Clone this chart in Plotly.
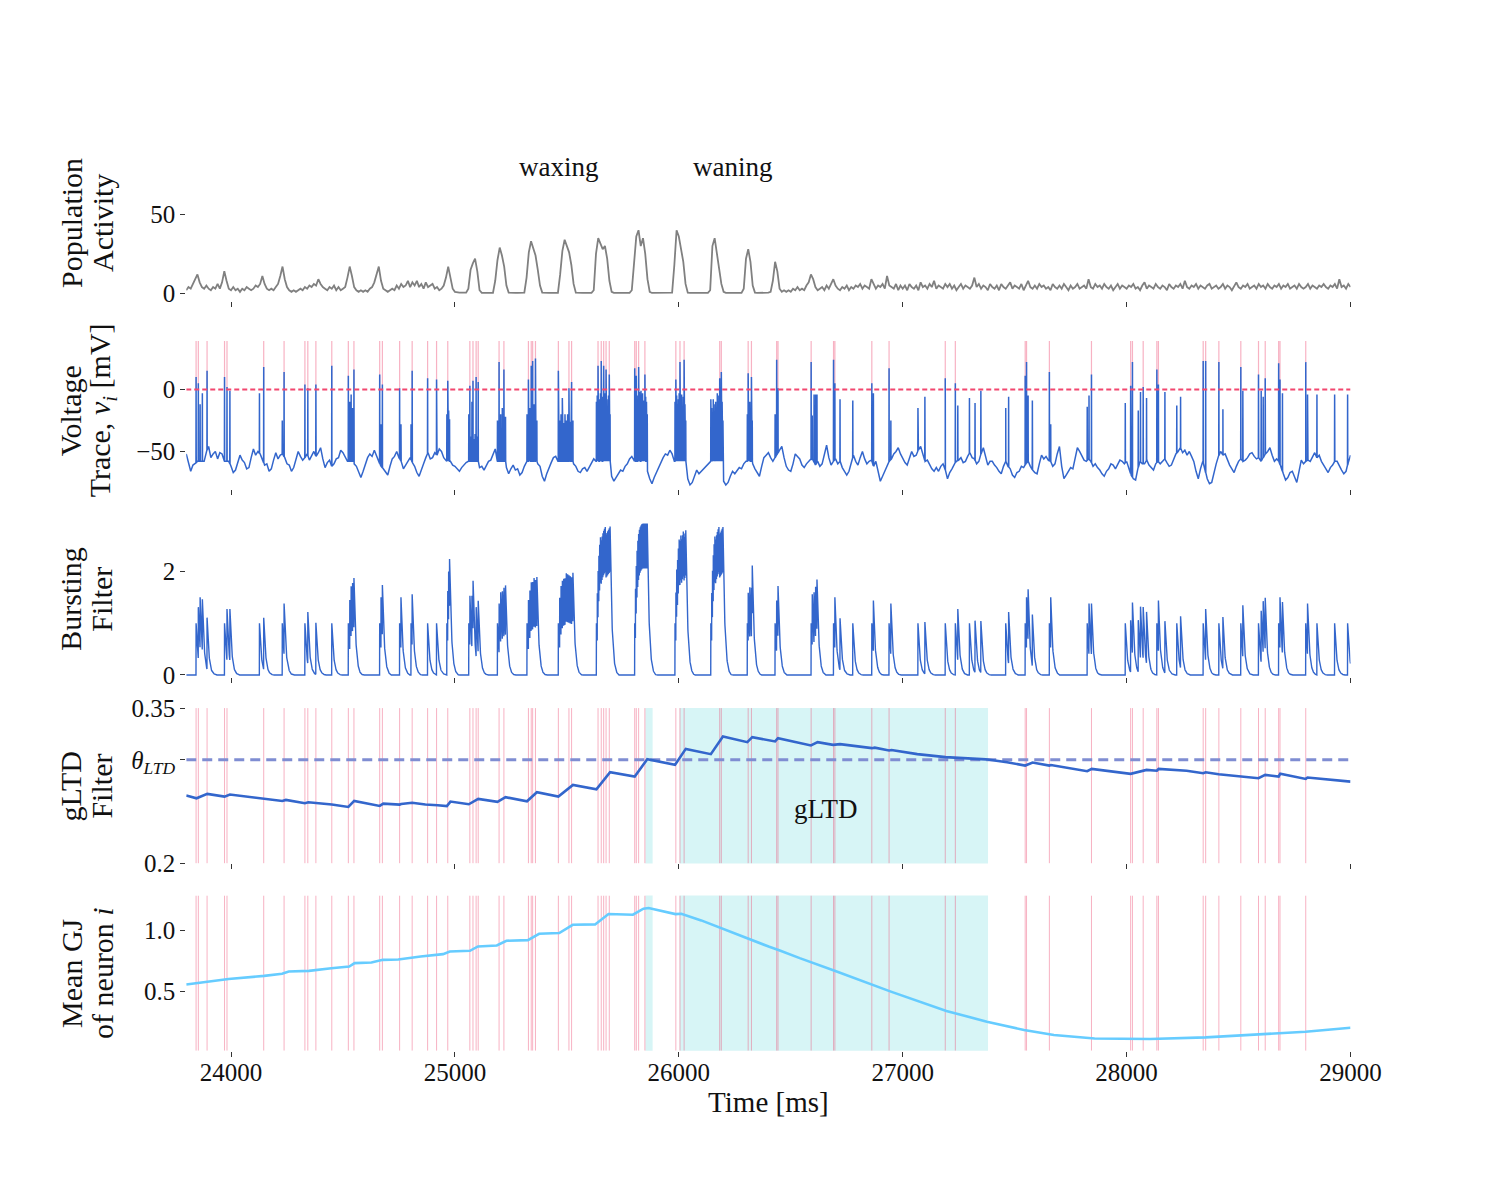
import numpy as np
import plotly.graph_objects as go
from plotly.subplots import make_subplots

# time window on every panel [ms]
t_first, t_last = 23800, 29000

# population activity, one value every 10 ms from t_first
pop_dt = 10
pop_activity = [
    2, 4, 3, 6, 8, 12, 7, 4, 3, 5,
    3, 2, 4, 3, 6, 3, 7, 14, 8, 3,
    2, 4, 2, 3, 1, 3, 2, 4, 3, 2,
    3, 5, 4, 6, 11, 6, 3, 2, 3, 2,
    4, 6, 11, 17, 9, 4, 2, 1, 2, 1,
    2, 3, 2, 4, 3, 5, 4, 6, 5, 9,
    6, 4, 3, 2, 4, 3, 5, 2, 4, 2,
    3, 4, 10, 17, 11, 4, 2, 1, 2, 1,
    2, 1, 3, 4, 7, 13, 17, 8, 3, 2,
    1, 2, 3, 2, 5, 3, 6, 4, 5, 8,
    4, 7, 5, 8, 4, 6, 3, 7, 4, 5,
    6, 3, 4, 2, 3, 5, 10, 17, 9, 3,
    1, 0.5, 0.5, 0.5, 0.5, 0.5, 3, 15, 19, 22,
    14, 2, 0.3, 0.3, 0.3, 0.3, 0.3, 0.3, 8, 21,
    29, 24, 17, 5, 0.5, 0.3, 0.3, 0.3, 0.3, 0.3,
    0.3, 0.5, 10, 26, 33, 28, 24, 15, 5, 0.5,
    0.3, 0.3, 0.3, 0.3, 0.3, 0.3, 0.3, 12, 27, 34,
    30, 26, 18, 6, 0.5, 0.3, 0.3, 0.3, 0.3, 0.3,
    0.3, 0.3, 2, 25, 35, 31, 28, 30, 22, 8,
    1, 0.3, 0.3, 0.3, 0.3, 0.3, 0.3, 0.3, 0.3, 2,
    20, 36, 40, 30, 35, 25, 9, 1, 0.3, 0.3,
    0.3, 0.3, 0.3, 0.3, 0.3, 0.3, 0.3, 0.5, 18, 40,
    36, 28, 20, 6, 0.5, 0.3, 0.3, 0.3, 0.3, 0.3,
    0.3, 0.3, 0.3, 0.3, 2, 30, 35, 25, 18, 6,
    1, 0.3, 0.3, 0.3, 0.3, 0.3, 0.3, 0.3, 0.3, 3,
    22, 28, 20, 5, 0.5, 0.3, 0.3, 0.3, 0.3, 0.5,
    0.5, 1, 8, 20, 14, 3, 1, 2, 1, 2,
    1, 3, 2, 4, 2, 3, 2, 5, 7, 12,
    9, 4, 2, 3, 4, 2, 5, 3, 6, 9,
    5, 3, 2, 4, 3, 5, 2, 4, 3, 5,
    4, 6, 3, 5, 4, 3, 9, 6, 3, 5,
    4, 6, 3, 11, 5, 4, 3, 6, 2, 5,
    3, 5, 2, 6, 4, 3, 5, 2, 7, 4,
    5, 3, 6, 4, 8, 3, 5, 4, 3, 6,
    4, 6, 3, 5, 2, 4, 6, 3, 5, 4,
    3, 5, 10, 4, 6, 3, 5, 4, 2, 6,
    4, 3, 5, 2, 6, 4, 3, 5, 7, 3,
    5, 4, 3, 6, 2, 5, 8, 4, 3, 5,
    3, 6, 4, 5, 3, 4, 2, 6, 4, 3,
    5, 3, 6, 4, 2, 5, 3, 4, 6, 3,
    4, 5, 3, 9, 4, 3, 6, 4, 5, 3,
    6, 4, 3, 5, 2, 4, 6, 3, 5, 4,
    3, 5, 4, 6, 3, 4, 2, 5, 7, 3,
    5, 4, 3, 6, 4, 3, 5, 4, 2, 6,
    4, 3, 5, 4, 6, 3, 8, 4, 3, 5,
    4, 6, 3, 5, 4, 3, 5, 6, 3, 4,
    5, 3, 4, 6, 3, 5, 4, 2, 5, 7,
    4, 3, 5, 4, 6, 3, 4, 5, 3, 6,
    4, 5, 3, 6, 4, 3, 5, 4, 6, 3,
    5, 4, 6, 3, 4, 5, 3, 6, 4, 3,
    4, 6, 3, 5, 4, 3, 5, 4, 6, 4,
    3, 5, 4, 6, 3, 9, 4, 5, 3, 6,
    4,
]

# voltage of neuron i between spikes, one value every 10 ms [mV]
v_dt = 10
v_rest = [
    -52, -58, -66, -61, -60, -58, -58, -58, -58, -50, -46, -55, -52, -50, -56, -51, -52, -58, -58, -58,
    -62, -67, -65, -58, -53, -57, -59, -64, -63, -55, -48, -53, -50, -52, -56, -61, -60, -66, -64, -57,
    -51, -56, -53, -52, -55, -60, -61, -66, -63, -56, -50, -54, -57, -55, -52, -57, -53, -50, -54, -51,
    -47, -56, -63, -59, -57, -62, -60, -56, -55, -49, -51, -55, -58, -58, -58, -60, -62, -67, -71, -66,
    -61, -55, -52, -54, -49, -54, -58, -62, -64, -67, -69, -62, -56, -54, -50, -55, -58, -64, -61, -57,
    -55, -59, -62, -67, -70, -64, -60, -55, -51, -56, -55, -51, -53, -48, -50, -55, -58, -58, -58, -61,
    -62, -64, -66, -63, -61, -59, -58, -58, -58, -58, -58, -63, -62, -65, -61, -58, -57, -52, -48, -58,
    -58, -58, -58, -63, -68, -64, -61, -65, -64, -69, -67, -62, -58, -58, -58, -58, -58, -60, -62, -70,
    -74, -68, -63, -59, -55, -54, -58, -58, -58, -58, -58, -58, -58, -60, -62, -66, -67, -64, -63, -66,
    -63, -60, -56, -58, -58, -58, -58, -58, -58, -58, -70, -74, -71, -68, -65, -66, -62, -60, -56, -54,
    -58, -58, -58, -58, -58, -58, -66, -72, -76, -71, -67, -63, -58, -55, -52, -53, -49, -52, -58, -58,
    -58, -58, -58, -58, -72, -77, -75, -70, -65, -68, -66, -64, -62, -60, -58, -58, -58, -58, -58, -58,
    -74, -77, -75, -70, -66, -68, -65, -63, -64, -60, -58, -58, -58, -60, -64, -67, -70, -62, -55, -53,
    -51, -55, -58, -55, -52, -49, -46, -55, -62, -65, -66, -60, -52, -54, -56, -61, -63, -60, -58, -56,
    -57, -61, -58, -62, -60, -52, -45, -55, -61, -58, -56, -60, -58, -63, -66, -69, -66, -60, -53, -58,
    -61, -55, -50, -56, -60, -58, -57, -62, -58, -67, -74, -70, -66, -61, -58, -56, -52, -50, -47, -52,
    -56, -59, -61, -55, -50, -54, -53, -49, -46, -52, -58, -57, -61, -64, -66, -63, -66, -62, -60, -65,
    -72, -67, -64, -60, -58, -57, -55, -59, -58, -54, -51, -55, -56, -60, -58, -52, -47, -55, -61, -58,
    -58, -61, -63, -66, -68, -62, -58, -62, -64, -69, -71, -67, -66, -62, -63, -60, -58, -62, -65, -67,
    -68, -60, -53, -56, -54, -57, -58, -62, -60, -52, -46, -62, -72, -69, -66, -63, -64, -55, -47, -50,
    -53, -57, -58, -56, -58, -62, -60, -63, -65, -68, -70, -66, -64, -60, -61, -64, -60, -57, -58, -60,
    -58, -63, -69, -72, -73, -64, -58, -60, -60, -57, -61, -63, -65, -60, -58, -60, -58, -56, -59, -62,
    -61, -56, -52, -50, -47, -51, -49, -53, -50, -54, -58, -66, -72, -64, -58, -65, -72, -76, -75, -66,
    -60, -54, -50, -53, -52, -57, -61, -64, -67, -62, -58, -56, -58, -57, -55, -52, -51, -54, -56, -55,
    -58, -55, -52, -50, -47, -53, -58, -56, -58, -63, -68, -73, -71, -67, -66, -71, -75, -66, -57, -60,
    -58, -57, -58, -54, -51, -55, -53, -58, -61, -64, -67, -63, -61, -58, -58, -62, -65, -68, -66, -59,
    -53,
]

# isolated spikes: (time ms, peak mV)
single_spikes = [
    (23844, 10), (23854, 5), (23862, -12), (23872, -3), (23893, 15),
    (23971, 10), (23982, 2), (23995, -1), (24127, -3), (24146, 18),
    (24229, -25), (24237, 14), (24330, 4), (24343, 1), (24379, 4), (24450, 19),
    (24664, 12), (24670, -28), (24676, 4), (24753, 1), (24759, -28),
    (24804, -28), (24809, 15), (24878, 9), (24918, 8),
    (24964, -20), (24968, 7), (24972, -17), (24976, -24),
    (26430, -20), (26437, 24), (26443, 1),
    (26591, 22), (26596, -21), (26604, -4), (26611, -4), (26617, -4),
    (26691, 24), (26697, 5), (26720, -8), (26777, -9),
    (26862, 5), (26869, -3), (26939, 17), (26947, -25),
    (27068, -15), (27099, -6), (27190, 9), (27235, 5), (27246, -13),
    (27298, -7), (27323, -11), (27349, -1), (27460, -15), (27473, -6),
    (27547, 11), (27553, 22), (27560, -5), (27579, -9), (27655, 14), (27661, -28),
    (27824, -14), (27832, -5), (27843, 12), (27994, -11),
    (28018, 3), (28026, 22), (28052, -17), (28062, -2), (28074, 2), (28089, -7),
    (28135, 16), (28142, 4), (28171, -2), (28224, -13), (28241, -6),
    (28342, 23), (28353, 23), (28412, 22), (28430, -16),
    (28510, 18), (28519, -1), (28589, 12), (28601, -1), (28610, -6), (28619, 9),
    (28679, 21), (28685, 8), (28696, -3), (28800, 22), (28808, -4),
    (28850, -4), (28929, -4), (28987, -4),
]

# bursts: (first spike ms, last spike ms, peaks mV), spikes reset to the burst floor
burst_floor = -58
burst_spikes = [
    (24524, 24549, [11, -10, -4, -15, 16]),
    (25062, 25104, [-20, 3, -38, -10, 7, -40, -36, 10, -38, 6]),
    (25190, 25226, [-25, -38, 22, -40, -20, -36, -15, -40, 16, -38, -22]),
    (25322, 25366, [-20, -38, 8, -40, -15, -36, 19, -40, 23, -38, -12, -40, 25, -36, -25]),
    (25462, 25527, [15, -38, -25, -40, -20, -36, -7, -40, -27, -38, -20, -40,
                    -25, -36, -20, -40, 1, -38, -26, -40, 6, -36, -25]),
    (25632, 25693, [-10, -5, 19, -15, -8, -3, 23, -12, -6, 19, -10, -3, 16, -8, -15, -5, 12, -20]),
    (25803, 25859, [17, -10, 11, -5, -12, 18, -2, -15, -1, -8, -3, -12, -9, 12, -6, -10, -20]),
    (25983, 26031, [-10, 8, -5, -12, -8, -3, 22, -10, -4, -15, -6, 24, -12, -25]),
    (26143, 26197, [-8, -15, -20, -8, -12, -18, -10, -15, -3, -12, -5, 9, -15, 14, -10, -25]),
    (26306, 26328, [-20, 13, -38, -10, -36, 10, -25]),
]

# bursting filter response to a single spike, one value every 4 ms
kernel_dt = 4
kernel_shape = [1.0, 0.62, 0.38, 0.24, 0.15, 0.09, 0.055, 0.033, 0.02, 0.01, 0.0]
kick_min = -30  # smaller wiggles are not counted as spikes

# gLTD filter (time ms, value)
gltd_points = [
    (23800, 0.2655), (23846, 0.2629), (23894, 0.2671), (23971, 0.2645), (23995, 0.2665),
    (24146, 0.2623), (24150, 0.2628), (24229, 0.2603), (24245, 0.2613), (24330, 0.2581),
    (24345, 0.2590), (24379, 0.2584), (24450, 0.2568), (24524, 0.2545), (24550, 0.2603),
    (24664, 0.2555), (24680, 0.2577), (24753, 0.2568), (24760, 0.2574), (24809, 0.2585),
    (24868, 0.2568), (24923, 0.2562), (24964, 0.2553), (24980, 0.2597), (25062, 0.2571),
    (25104, 0.2623), (25190, 0.2594), (25226, 0.2639), (25322, 0.2600), (25366, 0.2687),
    (25462, 0.2645), (25527, 0.2758), (25632, 0.2716), (25693, 0.2881), (25803, 0.2839),
    (25859, 0.3006), (25983, 0.2952), (26031, 0.3106), (26143, 0.3055), (26197, 0.3226),
    (26306, 0.3171), (26328, 0.3219), (26430, 0.3178), (26443, 0.3210), (26590, 0.3139),
    (26620, 0.3171), (26689, 0.3145), (26720, 0.3152), (26862, 0.3113), (26875, 0.3118),
    (26939, 0.3090), (26950, 0.3095), (27065, 0.3055), (27191, 0.3026), (27297, 0.3010),
    (27371, 0.3005), (27466, 0.2977), (27547, 0.2945), (27580, 0.2974), (27655, 0.2945),
    (27662, 0.2950), (27824, 0.2890), (27844, 0.2913), (28018, 0.2865), (28089, 0.2903),
    (28135, 0.2895), (28143, 0.2913), (28268, 0.2894), (28342, 0.2871), (28353, 0.2880),
    (28411, 0.2861), (28510, 0.2839), (28589, 0.2823), (28619, 0.2855), (28679, 0.2839),
    (28686, 0.2865), (28800, 0.2816), (28808, 0.2829), (29000, 0.2790),
]
theta_ltd = 0.3

# mean gap junction strength of neuron i (time ms, value)
gj_points = [
    (23800, 0.558), (23989, 0.604), (24148, 0.629), (24228, 0.646), (24258, 0.665),
    (24348, 0.670), (24448, 0.692), (24528, 0.706), (24552, 0.734), (24627, 0.739),
    (24678, 0.761), (24747, 0.764), (24847, 0.788), (24947, 0.808), (24977, 0.830),
    (25067, 0.835), (25103, 0.871), (25187, 0.879), (25230, 0.918), (25326, 0.923),
    (25376, 0.975), (25466, 0.981), (25526, 1.049), (25626, 1.052), (25686, 1.137),
    (25795, 1.132), (25842, 1.181), (25865, 1.187), (25985, 1.137), (26011, 1.140),
    (26100, 1.085), (26205, 1.008), (26404, 0.868), (26451, 0.838), (26540, 0.775),
    (26699, 0.670), (26947, 0.500), (27195, 0.341), (27376, 0.253), (27542, 0.184),
    (27675, 0.143), (27857, 0.115), (28105, 0.110), (28353, 0.124), (28602, 0.152),
    (28799, 0.170), (29000, 0.203),
]

# stretches where the gLTD filter is above threshold
gltd_windows = [(25851, 25883), (26004, 27381)]

# ---------------------------------------------------------------- build traces
t_rest = t_first + v_dt * np.arange(len(v_rest))
t_pop = t_first + pop_dt * np.arange(len(pop_activity))

spk_t, spk_v, spk_foot = [], [], []
for t, p in single_spikes:
    spk_t.append(t)
    spk_v.append(p)
    spk_foot.append(float(np.interp(t, t_rest, v_rest)))
for t0, t1, peaks in burst_spikes:
    for t, p in zip(np.linspace(t0, t1, len(peaks)), peaks):
        spk_t.append(float(t))
        spk_v.append(p)
        spk_foot.append(burst_floor)

vx = list(t_rest)
vy = list(v_rest)
for t, p, f in zip(spk_t, spk_v, spk_foot):
    vx += [t - 0.6, t, t + 0.6]
    vy += [f, p, f]
order = np.argsort(vx, kind="stable")
vx = np.array(vx)[order]
vy = np.array(vy)[order]

tf = np.arange(t_first, t_last + 0.25, 0.5)
kt = kernel_dt * np.arange(len(kernel_shape))
burst_filter = np.zeros_like(tf)
for t, p in zip(spk_t, spk_v):
    if p > kick_min:
        burst_filter += np.interp(tf - t, kt, kernel_shape, left=0.0, right=0.0)

pink_t = sorted(t for t, p in zip(spk_t, spk_v) if p > 0)


def vlines(times, y0, y1):
    xs, ys = [], []
    for t in times:
        xs += [t, t, None]
        ys += [y0, y1, None]
    return xs, ys


# the captured page comes out slightly shifted and shrunk, so target pixel
# positions are mapped back to paper fractions here
def paper_x(px):
    return (px - 9.3) / 0.978 / 1500


def paper_y(py):
    return 1 - (py - 21.25) / 0.9756 / 1200


# ---------------------------------------------------------------- figure
FONT = "Liberation Serif, DejaVu Serif, serif"
blue = "#3366cc"
pink = "rgba(236, 72, 112, 0.42)"

ranges = {1: [-5, 94], 2: [-80, 46], 3: [-0.04, 2.98], 4: [0.2, 0.35], 5: [0.014, 1.29]}
panel_px = {1: (145, 301), 2: (332, 488), 3: (520, 676), 4: (707, 862), 5: (894, 1049)}
domains = {i: [paper_y(b), paper_y(t)] for i, (t, b) in panel_px.items()}
x_domain = [paper_x(187.3), paper_x(1350)]

fig = make_subplots(rows=5, cols=1)

# 1 population
fig.add_trace(go.Scatter(x=t_pop, y=pop_activity, mode="lines",
                         line=dict(color="#808080", width=1.8)), row=1, col=1)

# 2 voltage
px, py = vlines(pink_t, 0, 39)
fig.add_trace(go.Scatter(x=px, y=py, mode="lines", line=dict(color=pink, width=1.2)), row=2, col=1)
fig.add_trace(go.Scatter(x=vx, y=vy, mode="lines", line=dict(color=blue, width=1.5)), row=2, col=1)
fig.add_trace(go.Scatter(x=[t_first, t_last], y=[0, 0], mode="lines",
                         line=dict(color="#f2476f", width=2, dash="5px,3px")), row=2, col=1)

# 3 bursting filter
fig.add_trace(go.Scatter(x=tf, y=burst_filter, mode="lines",
                         line=dict(color=blue, width=1.4)), row=3, col=1)

# 4 gLTD filter
px, py = vlines(pink_t, ranges[4][0], ranges[4][1])
fig.add_trace(go.Scatter(x=px, y=py, mode="lines", line=dict(color=pink, width=1)), row=4, col=1)
fig.add_trace(go.Scatter(x=[t_first, t_last], y=[theta_ltd, theta_ltd], mode="lines",
                         line=dict(color="#7f8dd2", width=3, dash="10px,6px")), row=4, col=1)
fig.add_trace(go.Scatter(x=[p[0] for p in gltd_points], y=[p[1] for p in gltd_points],
                         mode="lines", line=dict(color=blue, width=2.6)), row=4, col=1)

# 5 mean gap junction
px, py = vlines(pink_t, ranges[5][0], ranges[5][1])
fig.add_trace(go.Scatter(x=px, y=py, mode="lines", line=dict(color=pink, width=1)), row=5, col=1)
fig.add_trace(go.Scatter(x=[p[0] for p in gj_points], y=[p[1] for p in gj_points],
                         mode="lines", line=dict(color="#66ccff", width=2.6)), row=5, col=1)

# shaded gLTD windows in panels 4 and 5
for a, b in gltd_windows:
    for r in (4, 5):
        fig.add_vrect(x0=a, x1=b, row=r, col=1, fillcolor="rgba(175, 235, 238, 0.5)",
                      line_width=0, layer="below")

x_ticks = [24000, 25000, 26000, 27000, 28000, 29000]
ytick = {
    1: ([0, 50], ["0", "50"]),
    2: ([-50, 0], ["\u221250", "0"]),
    3: ([0, 2], ["0", "2"]),
    4: ([0.2, theta_ltd, 0.35], ["0.2", "<i>\u03b8</i><sub><i>LTD</i></sub>", "0.35"]),
    5: ([0.5, 1.0], ["0.5", "1.0"]),
}

layout = {}
for i in range(1, 6):
    sfx = "" if i == 1 else str(i)
    layout["xaxis" + sfx] = dict(
        domain=x_domain, range=[t_first, t_last], anchor="y" + sfx,
        tickvals=x_ticks, ticktext=[str(v) for v in x_ticks],
        showticklabels=(i == 5), ticks="outside", ticklen=5, tickwidth=1.2, tickcolor="#333",
        showgrid=False, zeroline=False, showline=False,
        tickfont=dict(family=FONT, size=25, color="#111"),
    )
    layout["yaxis" + sfx] = dict(
        domain=domains[i], range=ranges[i], anchor="x" + sfx,
        tickvals=ytick[i][0], ticktext=ytick[i][1],
        ticks="outside", ticklen=5, tickwidth=1.2, tickcolor="#333",
        showgrid=False, zeroline=False, showline=False,
        tickfont=dict(family=FONT, size=25, color="#111"),
    )
layout["xaxis5"]["ticklabelstandoff"] = -6
layout["xaxis5"]["title"] = dict(text="Time [ms]", font=dict(family=FONT, size=29, color="#111"),
                                 standoff=0)

fig.update_layout(**layout)

# y axis titles as two rotated lines, aligned across panels
y_titles = {
    1: ("Population", "Activity"),
    2: ("Voltage", "Trace, <i>v<sub>i</sub></i> [mV]"),
    3: ("Bursting", "Filter"),
    4: ("gLTD", "Filter"),
    5: ("Mean GJ", "of neuron <i>i</i>"),
}
for i, (l1, l2) in y_titles.items():
    yc = sum(domains[i]) / 2
    for txt, xpx in ((l1, 72), (l2, 103)):
        fig.add_annotation(text=txt, xref="paper", yref="paper", x=paper_x(xpx), y=yc,
                           xanchor="center", yanchor="middle", textangle=-90, showarrow=False,
                           font=dict(family=FONT, size=30, color="#111"))

fig.add_annotation(text="waxing", x=25462, y=80, xref="x", yref="y", showarrow=False,
                   font=dict(family=FONT, size=27, color="#111"))
fig.add_annotation(text="waning", x=26240, y=80, xref="x", yref="y", showarrow=False,
                   font=dict(family=FONT, size=27, color="#111"))
fig.add_annotation(text="gLTD", x=26656, y=0.2523, xref="x4", yref="y4", showarrow=False,
                   font=dict(family=FONT, size=27, color="#111"))

fig.update_layout(width=1500, height=1200, margin=dict(l=0, r=0, t=0, b=0),
                  showlegend=False, plot_bgcolor="white", paper_bgcolor="white")

fig.write_html("out.html")
